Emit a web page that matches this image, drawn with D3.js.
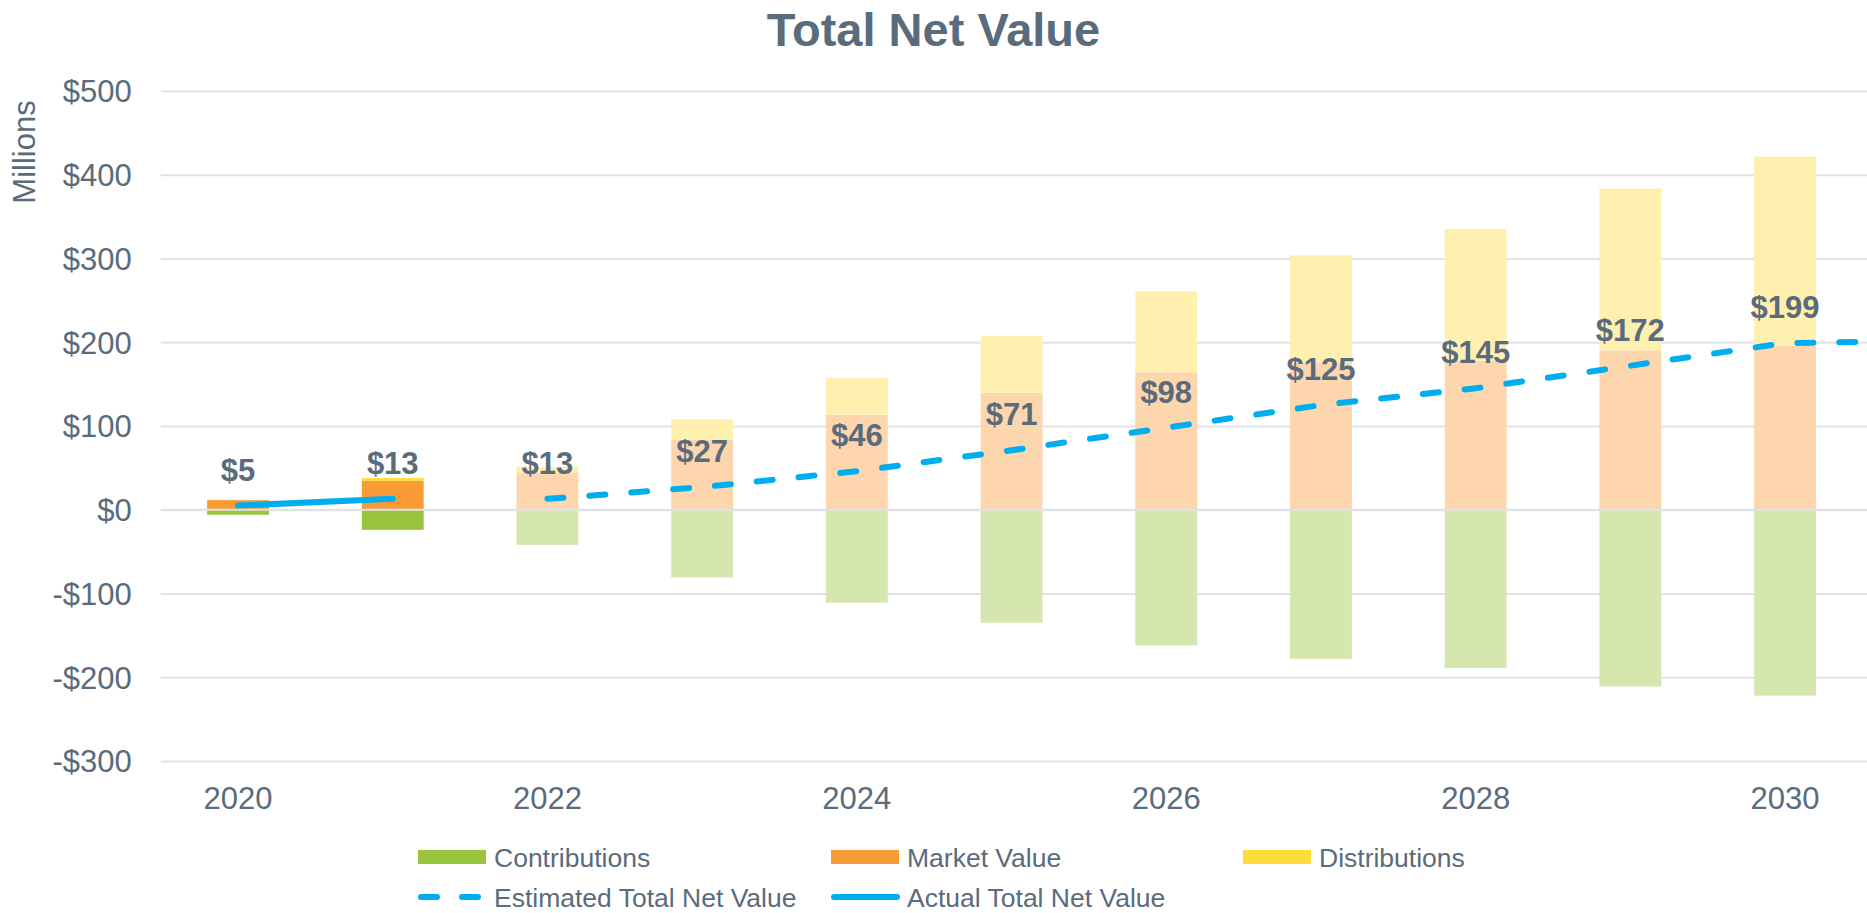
<!DOCTYPE html>
<html>
<head>
<meta charset="utf-8">
<script src="https://cdn.jsdelivr.net/npm/d3@7/dist/d3.min.js"></script>
<style>
  html, body { margin: 0; padding: 0; background: #fff; }
  svg { display: block; font-family: "Liberation Sans", Arial, sans-serif; }
</style>
</head>
<body>
<svg id="chart" width="1867" height="913"></svg>
<script>
// Values (millions).
const years = [2020, 2021, 2022, 2023, 2024, 2025, 2026, 2027, 2028, 2029, 2030];
const actualYears = [2020, 2021];
const contributions = [-6, -24, -42, -81, -111, -135, -162, -178, -189, -211, -222];
const marketValue = [11.5, 34.5, 44.6, 83.6, 113.5, 139.8, 164.1, 176, 178, 190.4, 196];
const distributions = [0.4, 3.3, 6.8, 24.3, 44.2, 67.7, 96.7, 127.9, 157.3, 193.1, 225.7];

const actualNetYears = [2020, 2021];
const actualNetValue = [5, 13];
// last point (2031) lies past the right edge, only its segment shows
const estimatedNetYears = [2022, 2023, 2024, 2025, 2026, 2027, 2028, 2029, 2030, 2031];
const estimatedNetValue = [13, 27, 46, 71, 98, 125, 145, 172, 199, 202];

const yTicks = [-300, -200, -100, 0, 100, 200, 300, 400, 500];
const xTickYears = [2020, 2022, 2024, 2026, 2028, 2030];

const textColor = '#5a6b7c';
const gridColor = '#dfe3e8';
const lineColor = '#00aeef';
const colors = {
  contributions: { actual: '#98c43e', estimated: '#d5e6ae' },
  marketValue: { actual: '#f99b34', estimated: '#fdd6ae' },
  distributions: { actual: '#ffdc3a', estimated: '#fff0b0' },
};

const width = 1867;
const plot = { left: 160.7, right: 1862.4, top: 91, bottom: 761 };

const svg = d3.select('#chart');

const x = d3.scaleBand()
  .domain(years)
  .range([plot.left, plot.right])
  .paddingInner(0.6)
  .paddingOuter(0.3);
const y = d3.scaleLinear().domain([-300, 500]).range([plot.bottom, plot.top]);

const lastYear = years[years.length - 1];
const xc = yr => years.includes(yr)
  ? x(yr) + x.bandwidth() / 2
  : x(lastYear) + x.bandwidth() / 2 + x.step() * (yr - lastYear);

svg.append('defs').append('clipPath').attr('id', 'plot-clip')
  .append('rect')
  .attr('x', plot.left).attr('y', 0)
  .attr('width', width - plot.left).attr('height', 913);

// Title
svg.append('text')
  .attr('x', width / 2).attr('y', 46)
  .attr('text-anchor', 'middle')
  .attr('font-size', 47).attr('font-weight', 'bold')
  .attr('fill', textColor)
  .text('Total Net Value');

// Axis title
svg.append('text')
  .attr('transform', 'translate(35,152) rotate(-90)')
  .attr('text-anchor', 'middle')
  .attr('font-size', 31)
  .attr('fill', textColor)
  .text('Millions');

// Y axis + gridlines
const fmt = v => (v < 0 ? '-$' : '$') + Math.abs(v);
const yAxis = svg.append('g')
  .attr('transform', `translate(${plot.left},0)`)
  .call(d3.axisLeft(y)
    .tickValues(yTicks)
    .tickSize(-(width - plot.left))
    .tickPadding(29)
    .tickFormat(fmt));
yAxis.select('.domain').remove();
yAxis.selectAll('line').attr('stroke', gridColor).attr('stroke-width', 2);
yAxis.selectAll('text')
  .attr('font-size', 31).attr('fill', textColor)
  .attr('font-family', '"Liberation Sans", Arial, sans-serif')
  .attr('dy', '0.35em');

// X axis
const xAxis = svg.append('g')
  .attr('transform', `translate(0,${plot.bottom})`)
  .call(d3.axisBottom(x).tickValues(xTickYears).tickSize(0).tickPadding(26));
xAxis.select('.domain').remove();
xAxis.selectAll('text')
  .attr('font-size', 31).attr('fill', textColor)
  .attr('font-family', '"Liberation Sans", Arial, sans-serif');

// Stacked bars
const rows = years.map((yr, i) => ({
  year: yr,
  contributions: contributions[i],
  marketValue: marketValue[i],
  distributions: distributions[i],
}));
const keys = ['contributions', 'marketValue', 'distributions'];
const series = d3.stack().keys(keys).offset(d3.stackOffsetDiverging)(rows);

svg.append('g')
  .selectAll('g')
  .data(series)
  .join('g')
  .selectAll('rect')
  .data(s => s.map(d => ({ key: s.key, d })))
  .join('rect')
  .attr('x', p => x(p.d.data.year))
  .attr('width', x.bandwidth())
  .attr('y', p => y(Math.max(p.d[0], p.d[1])))
  .attr('height', p => Math.abs(y(p.d[0]) - y(p.d[1])))
  .attr('fill', p => colors[p.key][actualYears.includes(p.d.data.year) ? 'actual' : 'estimated']);

// zero line sits over the bars
svg.append('line')
  .attr('x1', plot.left).attr('x2', width)
  .attr('y1', y(0)).attr('y2', y(0))
  .attr('stroke', gridColor).attr('stroke-width', 2);

// Net value lines
const line = d3.line().x(d => xc(d.year)).y(d => y(d.value));
const actualPts = actualNetYears.map((yr, i) => ({ year: yr, value: actualNetValue[i] }));
const estimatedPts = estimatedNetYears.map((yr, i) => ({ year: yr, value: estimatedNetValue[i] }));

const lines = svg.append('g').attr('clip-path', 'url(#plot-clip)')
  .attr('fill', 'none').attr('stroke', lineColor)
  .attr('stroke-width', 6).attr('stroke-linecap', 'round').attr('stroke-linejoin', 'round');
lines.append('path').attr('d', line(estimatedPts)).attr('stroke-dasharray', '16,26');
lines.append('path').attr('d', line(actualPts));

// Data labels
const labelPts = actualPts.concat(estimatedPts.filter(d => years.includes(d.year)));
svg.append('g')
  .selectAll('text')
  .data(labelPts)
  .join('text')
  .attr('x', d => xc(d.year))
  .attr('y', d => y(d.value) - 25)
  .attr('text-anchor', 'middle')
  .attr('font-size', 31).attr('font-weight', 'bold')
  .attr('fill', textColor)
  .text(d => '$' + d.value);

// Legend
const legendItems = [
  { label: 'Contributions', kind: 'box', color: colors.contributions.actual, col: 0, row: 0 },
  { label: 'Market Value', kind: 'box', color: colors.marketValue.actual, col: 1, row: 0 },
  { label: 'Distributions', kind: 'box', color: colors.distributions.actual, col: 2, row: 0 },
  { label: 'Estimated Total Net Value', kind: 'dash', color: lineColor, col: 0, row: 1 },
  { label: 'Actual Total Net Value', kind: 'solid', color: lineColor, col: 1, row: 1 },
];
const colX = [418, 831, 1243];
const rowY = [857, 897];

const legend = svg.append('g')
  .selectAll('g')
  .data(legendItems)
  .join('g')
  .attr('transform', d => `translate(${colX[d.col]},${rowY[d.row]})`);

legend.filter(d => d.kind === 'box').append('rect')
  .attr('x', 0).attr('y', -7).attr('width', 68).attr('height', 14)
  .attr('fill', d => d.color);
legend.filter(d => d.kind !== 'box').append('line')
  .attr('x1', 3).attr('x2', d => d.kind === 'dash' ? 61 : 66)
  .attr('y1', 0).attr('y2', 0)
  .attr('stroke', d => d.color).attr('stroke-width', 6)
  .attr('stroke-linecap', 'round')
  .attr('stroke-dasharray', d => d.kind === 'dash' ? '16,25' : null);
legend.append('text')
  .attr('x', 76).attr('y', 0).attr('dy', '0.36em')
  .attr('font-size', 26.5).attr('fill', textColor)
  .text(d => d.label);
</script>
</body>
</html>
